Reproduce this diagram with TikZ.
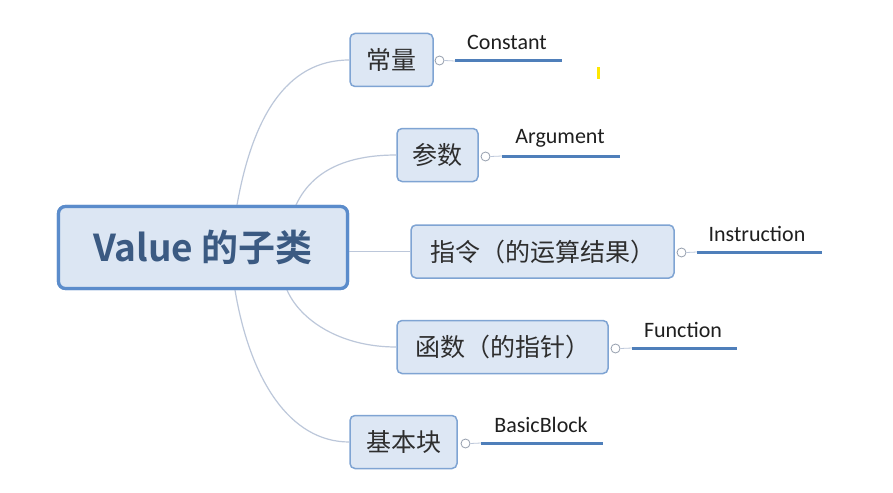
\documentclass[tikz,border=0pt]{standalone}
\usepackage{fontspec}
\newfontfamily\cjk{Noto Sans CJK SC}
\newfontfamily\cjkb{Noto Sans CJK SC Bold}
\newfontfamily\lab{Carlito}
\definecolor{rootfill}{HTML}{DCE6F3}
\definecolor{rootdraw}{HTML}{5B8CCB}
\definecolor{roottext}{HTML}{3B5A82}
\definecolor{childfill}{HTML}{DDE7F4}
\definecolor{childdraw}{HTML}{7FA4D3}
\definecolor{conn}{HTML}{BCC7DA}
\definecolor{uline}{HTML}{4F7FBA}
\begin{document}
\begin{tikzpicture}[x=1pt,y=-1pt,
  rootbox/.style={draw=rootdraw,line width=3.2pt,fill=rootfill,rounded corners=7pt,
    minimum width=289pt,minimum height=82pt,inner sep=0pt,
    font=\cjkb\fontsize{37}{42}\selectfont,text=roottext},
  childbox/.style={draw=childdraw,line width=1.5pt,fill=childfill,rounded corners=5pt,
    minimum height=53pt,inner sep=0pt,font=\cjk\fontsize{25}{29}\selectfont,text=black!82},
  conline/.style={draw=conn,line width=1.2pt},
  knob/.style={circle,draw=conn!80!black,line width=0.8pt,fill=white,minimum size=9pt,inner sep=0pt},
  uline/.style={draw=uline,line width=3pt},
  thin/.style={draw=conn,line width=0.8pt},
  lbl/.style={font=\lab\fontsize{22}{25}\selectfont,text=black!88,inner sep=0pt}
]
\useasboundingbox[fill=white] (0,0) rectangle (893,492);

\node[rootbox] (root) at (203,247.5) {};

\node[childbox,minimum width=83pt] (c1) at (391.5,60) {常量};
\node[childbox,minimum width=81pt] (c2) at (437.5,155) {参数};
\node[childbox,minimum width=263pt] (c3) at (542.5,251.5) {指令（的运算结果）};
\node[childbox,minimum width=211pt] (c4) at (502.5,347) {函数（的指针）};
\node[childbox,minimum width=107pt] (c5) at (403.5,442) {基本块};

% connectors
\coordinate (s1) at (237,205);
\coordinate (s2) at (296,205);
\coordinate (s4) at (287,290);
\coordinate (s5) at (235,290);
\draw[conline] (s1) .. controls (252,120) and (285,60) .. (c1.west);
\draw[conline] (s2) .. controls (310,175) and (340,155) .. (c2.west);
\draw[conline] (root.east |- c3.west) -- (c3.west);
\draw[conline] (s4) .. controls (300,320) and (340,347) .. (c4.west);
\draw[conline] (s5) .. controls (250,380) and (290,442) .. (c5.west);
\node[rootbox] (roottext) at (root.center) {Value 的子类};

% knobs, underlines, labels
\node[knob] (k1) at (439.5,60.5) {};
\coordinate (a1) at (455,61); \coordinate (b1) at (562,61);
\draw[thin] (k1.east) -- (a1);
\draw[uline] (a1) -- (b1);
\node[lbl] (l1) at (507,42) {Constant};

\node[knob] (k2) at (485.5,156.5) {};
\coordinate (a2) at (502,156); \coordinate (b2) at (620,156);
\draw[thin] (k2.east) -- (a2);
\draw[uline] (a2) -- (b2);
\node[lbl] (l2) at (560,138) {Argument};

\node[knob] (k3) at (681.5,252.5) {};
\coordinate (a3) at (697,252); \coordinate (b3) at (822,252);
\draw[thin] (k3.east) -- (a3);
\draw[uline] (a3) -- (b3);
\node[lbl] (l3) at (757,234) {Instruction};

\node[knob] (k4) at (615.5,348.5) {};
\coordinate (a4) at (632,348); \coordinate (b4) at (737,348);
\draw[thin] (k4.east) -- (a4);
\draw[uline] (a4) -- (b4);
\node[lbl] (l4) at (683,330) {Function};

\node[knob] (k5) at (465.5,443.5) {};
\coordinate (a5) at (481,443); \coordinate (b5) at (603,443);
\draw[thin] (k5.east) -- (a5);
\draw[uline] (a5) -- (b5);
\node[lbl] (l5) at (541,425) {BasicBlock};

% small yellow mark
\fill[yellow!90!orange] (596.5,67) rectangle (599.5,79);
\end{tikzpicture}
\end{document}
